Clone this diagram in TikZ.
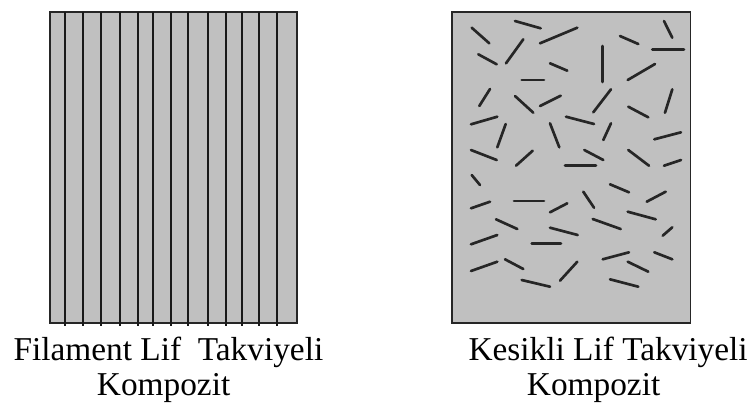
\documentclass[tikz,border=0pt]{standalone}
\usepackage{fontspec}
\setmainfont{Liberation Serif}
\begin{document}
\begin{tikzpicture}[x=0.75pt,y=-0.75pt,
  panel/.style={fill=matrixgray,draw=black!85,line width=1.3pt},
  filament/.style={draw=black!90,line width=1.3pt},
  fibre/.style={draw=black!85,line width=2pt,line cap=round},
  caption/.style={inner sep=0pt,anchor=base west,font=\fontsize{25pt}{26pt}\selectfont}]
\definecolor{matrixgray}{RGB}{192,192,192}
\useasboundingbox (0,0) rectangle (751,405);

% continuous filament composite: matrix with parallel fibres
\draw[panel] (50,11.7) rectangle (296.7,323);
\foreach \x in {65.3,82.7,100.7,120,138.3,153.3,171,188.3,208.3,226,241.7,259,276.7}
  \draw[filament] (\x,11.7) -- (\x,326);

% chopped fibre composite: matrix with randomly oriented short fibres
\draw[panel] (452,11.7) rectangle (690.5,323);
\foreach \a/\b/\c/\d in {
  471.7/27.7/489.3/43.3, 515/21/540.7/28.3, 540/43.3/577.3/27.7,
  506/63.3/523.3/39.3, 478.3/54.3/496.7/64.3, 550/63.3/567.3/70.7,
  521.7/80/544/80, 602.7/46/602.7/82, 620/36/638.3/44,
  664/21/672.3/37.7, 652.3/49.3/684/49.3, 627.7/80/655/64,
  479.3/106/490/89, 515/96/533.3/112.7, 540/106/560.7/95.7,
  593.3/112.3/611/89.3, 628.3/106.7/648.3/117.3, 672.3/89.3/665/112.7,
  471/124.3/497.3/116.7, 505.7/124/497.3/147.3, 566/116.7/594/124,
  550/123.3/559.3/147.3, 611/123.3/603.3/140, 654.3/139.3/681/132.3,
  471/150/496.7/160, 516/165.7/532.7/150.7, 584.3/150/603.3/160,
  628.3/150/649/165.7, 565/165.7/596/165.7, 664/165.7/681/160,
  471.7/175/480/185, 610/184.3/629/192.3, 471/208.3/490/201.7,
  514/201/544/201, 550/212.3/567.3/203.3, 583.3/191.7/594/207.7,
  646.7/201.7/665.7/191.7, 496/219.3/517.3/229, 550/227.7/577.7/235,
  592.7/219/620.7/229, 627.7/211.7/655.7/219.3, 662.7/235.7/672.3/227.3,
  471/244.3/497.3/235, 531.7/243.3/561/243.3, 602.7/259.3/629/252.3,
  654.3/252.3/672.3/259.3, 471/271/497.3/261.7, 505/259.3/523.3/269,
  560/280.7/577.3/261.7, 627.7/261.7/648.3/271.7, 521.7/280/550/286.7,
  610/279.3/638.3/286.7}
  \draw[fibre] (\a,\b) -- (\c,\d);

% captions
\node[caption] (capA1) at (13.3,360.7) {Filament Lif\ \ Takviyeli};
\node[caption] (capA2) at (96.7,395.7) {Kompozit};
\node[caption] (capB1) at (468.3,360.7) {Kesikli Lif Takviyeli};
\node[caption] (capB2) at (526.7,395.7) {Kompozit};
\end{tikzpicture}
\end{document}
